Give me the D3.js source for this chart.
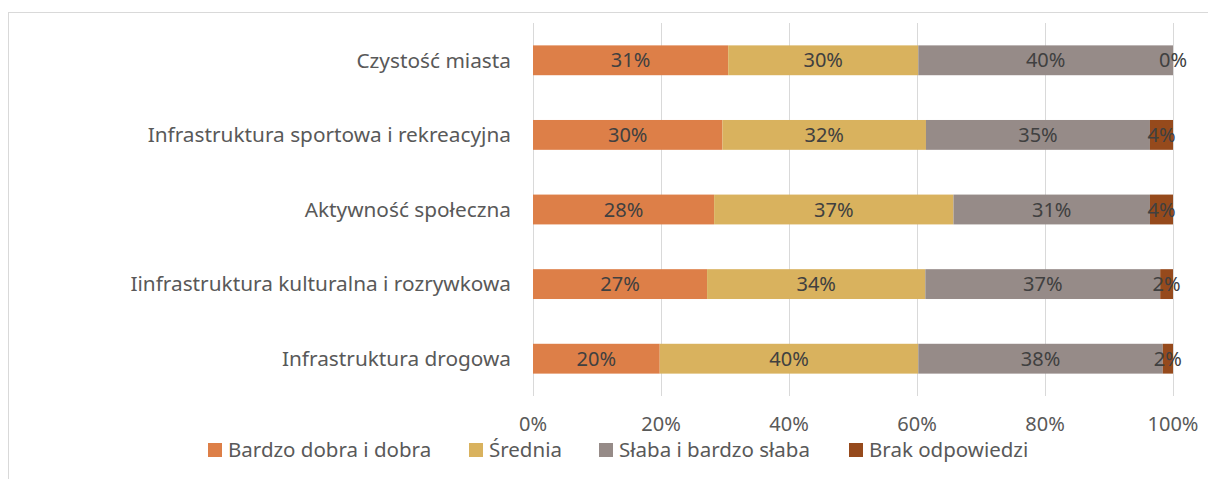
<!DOCTYPE html>
<html>
<head>
<meta charset="utf-8">
<script src="https://cdn.jsdelivr.net/npm/d3@7"></script>
<style>
  body { margin: 0; background: #fff; }
  text { font-family: "Noto Sans", "Open Sans", sans-serif; }
</style>
</head>
<body>
<div id="chart-area"></div>
<script>
// data
var categories = ["Czystość miasta", "Infrastruktura sportowa i rekreacyjna", "Aktywność społeczna",
	"Iinfrastruktura kulturalna i rozrywkowa", "Infrastruktura drogowa"];
var series = ["Bardzo dobra i dobra", "Średnia", "Słaba i bardzo słaba", "Brak odpowiedzi"];
var dobra = [30.5, 29.6, 28.3, 27.2, 19.8];
var srednia = [29.7, 31.8, 37.4, 34.1, 40.4];
var slaba = [39.8, 35.0, 30.7, 36.7, 38.2];
var brak = [0, 3.6, 3.6, 2.0, 1.6];
var ticks = [0, 20, 40, 60, 80, 100];
var colors = ["#dd7f48", "#d9b25e", "#968b88", "#964a1c"];

var svg = d3.select("#chart-area").append("svg")
	.attr("width", 1208)
	.attr("height", 479);

// chart frame
svg.append("rect")
	.attr("x", 8.5).attr("y", 12.5)
	.attr("width", 1260).attr("height", 500)
	.attr("fill", "none")
	.attr("stroke", "#d9d9d9");

var x = d3.scaleLinear()
	.domain([0, 100])
	.range([533, 1173]);

var y = d3.scaleBand()
	.domain(categories)
	.range([23, 396])
	.paddingInner(0.6)
	.paddingOuter(0.3);

// gridlines
svg.selectAll(".grid")
	.data(ticks)
	.enter().append("line")
	.attr("x1", d => x(d) + 0.5).attr("x2", d => x(d) + 0.5)
	.attr("y1", 23).attr("y2", 396)
	.attr("stroke", "#d9d9d9");

var values = [dobra, srednia, slaba, brak];
var stacked = [];
for (let i = 0; i < categories.length; i++)
{
	var start = 0;
	for (let s = 0; s < series.length; s++)
	{
		stacked.push({cat: categories[i], s: s, x0: start, x1: start + values[s][i], v: values[s][i]});
		start += values[s][i];
	}
}

svg.selectAll(".seg")
	.data(stacked)
	.enter().append("rect")
	.attr("x", d => x(d.x0))
	.attr("y", d => y(d.cat))
	.attr("width", d => x(d.x1) - x(d.x0))
	.attr("height", y.bandwidth())
	.attr("fill", d => colors[d.s]);

svg.selectAll(".lbl")
	.data(stacked)
	.enter().append("text")
	.attr("x", d => (x(d.x0) + x(d.x1)) / 2)
	.attr("y", d => y(d.cat) + y.bandwidth() / 2)
	.attr("dy", "0.35em")
	.attr("text-anchor", "middle")
	.attr("font-size", 20)
	.attr("fill", "#404040")
	.text(d => Math.round(d.v) + "%");

// category labels
svg.selectAll(".cat")
	.data(categories)
	.enter().append("text")
	.attr("x", 511)
	.attr("y", d => y(d) + y.bandwidth() / 2)
	.attr("dy", "0.35em")
	.attr("text-anchor", "end")
	.attr("font-size", 20.8)
	.attr("fill", "#595959")
	.text(d => d);

// x axis labels
svg.selectAll(".tick")
	.data(ticks)
	.enter().append("text")
	.attr("x", d => x(d))
	.attr("y", 424)
	.attr("dy", "0.35em")
	.attr("text-anchor", "middle")
	.attr("font-size", 20)
	.attr("fill", "#595959")
	.text(d => d + "%");

// legend
var legendX = [208, 469, 599, 849];
var legend = svg.selectAll(".leg")
	.data(series)
	.enter().append("g")
	.attr("transform", (d, i) => "translate(" + legendX[i] + ",450)");

legend.append("rect")
	.attr("x", 0).attr("y", -7)
	.attr("width", 14).attr("height", 14)
	.attr("fill", (d, i) => colors[i]);

legend.append("text")
	.attr("x", 20)
	.attr("dy", "0.35em")
	.attr("font-size", 20.5)
	.attr("fill", "#595959")
	.text(d => d);
</script>
</body>
</html>
